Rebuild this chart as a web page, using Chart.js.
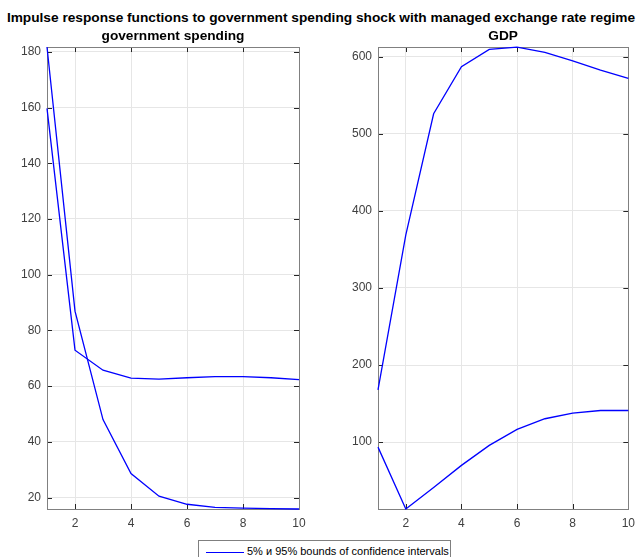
<!DOCTYPE html>
<html>
<head>
<meta charset="utf-8">
<script src="https://cdn.jsdelivr.net/npm/chart.js@4.4.0/dist/chart.umd.min.js"></script>
<style>
  body { margin: 0; background: #fff; font-family: "Liberation Sans", Arial, sans-serif; }
  #wrap { position: relative; width: 642px; height: 557px; overflow: hidden; background: #fff; }
  #supTitle { position: absolute; left: 0; top: 10px; width: 642px; text-align: center;
    font-weight: bold; font-size: 13.7px; color: #000; white-space: nowrap; }
  canvas { position: absolute; }
  #legend { position: absolute; left: 198px; top: 540px; width: 251px; height: 22px;
    border: 1px solid #7f7f7f; background: #fff; font-size: 11px; color: #000; }
  #legend .swatch { position: absolute; left: 7px; top: 11px; width: 38px; height: 0; border-top: 1.3px solid #0000ff; }
  #legend .label { position: absolute; left: 48px; top: 4px; white-space: nowrap; }
</style>
</head>
<body>
<div id="wrap">
  <div id="supTitle">Impulse response functions to government spending shock with managed exchange rate regime</div>
  <canvas id="gov" width="320" height="509" style="left:0px;top:22px"></canvas>
  <canvas id="gdp" width="312" height="509" style="left:330px;top:22px"></canvas>
  <div id="legend"><div class="swatch"></div><div class="label">5% и 95% bounds of confidence intervals</div></div>
</div>
<script>
// -- DATA -- //
const periods = [1, 2, 3, 4, 5, 6, 7, 8, 9, 10]
const legendLabel = '5% и 95% bounds of confidence intervals'

// government spending panel
const govUpper = [181.7, 86.9, 48.0, 28.6, 20.5, 17.6, 16.5, 16.2, 16.0, 15.9]
const govLower = [159.7, 72.9, 65.7, 62.9, 62.5, 63.0, 63.4, 63.4, 63.0, 62.3]
const govYTicks = [20, 40, 60, 80, 100, 120, 140, 160, 180]

// GDP panel
const gdpUpper = [167.9, 369.0, 526.0, 587.0, 609.6, 612.6, 605.7, 594.8, 582.8, 572.0]
const gdpLower = [93.5, 13.2, 41.0, 69.8, 95.7, 116.4, 130.3, 137.6, 141.0, 141.0]
const gdpYTicks = [100, 200, 300, 400, 500, 600]

const xTicks = [2, 4, 6, 8, 10]

// -- HELPERS -- //
const toPoints = (ys) => periods.map((x, i) => ({ x: x, y: ys[i] }))

// matlab-ish box with ticks pointing inwards
const boxPlugin = {
  id: 'box',
  beforeDatasetsDraw(chart) {
    const { ctx, chartArea: a, scales } = chart
    ctx.save()
    ctx.strokeStyle = '#262626'
    ctx.lineWidth = 1
    const len = 5
    ctx.beginPath()
    scales.x.ticks.forEach(t => {
      const px = Math.round(scales.x.getPixelForValue(t.value)) + 0.5
      ctx.moveTo(px, a.bottom); ctx.lineTo(px, a.bottom - len)
      ctx.moveTo(px, a.top); ctx.lineTo(px, a.top + len)
    })
    scales.y.ticks.forEach(t => {
      const py = Math.round(scales.y.getPixelForValue(t.value)) + 0.5
      ctx.moveTo(a.left, py); ctx.lineTo(a.left + len, py)
      ctx.moveTo(a.right, py); ctx.lineTo(a.right - len, py)
    })
    ctx.stroke()
    ctx.strokeStyle = '#808080'
    ctx.strokeRect(Math.round(a.left) + 0.5, Math.round(a.top) + 0.5,
      Math.round(a.right - a.left), Math.round(a.bottom - a.top))
    ctx.restore()
  }
}

const makeChart = (id, title, upper, lower, yTicks, padLeft, padRight) => {
  const all = upper.concat(lower)
  return new Chart(document.getElementById(id), {
    type: 'line',
    data: {
      datasets: [
        { label: legendLabel, data: toPoints(upper), borderColor: '#0000ff', borderWidth: 1.3, pointRadius: 0, tension: 0, fill: false },
        { label: legendLabel, data: toPoints(lower), borderColor: '#0000ff', borderWidth: 1.3, pointRadius: 0, tension: 0, fill: false }
      ]
    },
    options: {
      responsive: false,
      animation: false,
      clip: false,
      layout: { padding: { left: padLeft, right: padRight, top: 0, bottom: 0 } },
      plugins: {
        legend: { display: false },
        tooltip: { enabled: false },
        title: {
          display: true, text: title, color: '#000', fullSize: false, // centre over the plot area
          font: { family: 'Liberation Sans', size: 13.7, weight: 'bold', lineHeight: 1.2 },
          padding: { top: 5.6, bottom: 3 }
        }
      },
      scales: {
        x: {
          type: 'linear', min: 1, max: 10,
          afterBuildTicks: (s) => { s.ticks = xTicks.map(v => ({ value: v })) },
          afterFit: (s) => { s.height = 22 },
          grid: { color: '#e6e6e6', drawTicks: false },
          border: { display: false },
          ticks: { color: '#404040', padding: 7, maxRotation: 0, font: { family: 'Liberation Sans', size: 12 } }
        },
        y: {
          type: 'linear', min: Math.min(...all), max: Math.max(...all),
          afterBuildTicks: (s) => { s.ticks = yTicks.map(v => ({ value: v })) },
          afterFit: (s) => { s.width = 40 },
          grid: { color: '#e6e6e6', drawTicks: false },
          border: { display: false },
          ticks: { color: '#404040', padding: 6, font: { family: 'Liberation Sans', size: 12 } }
        }
      }
    },
    plugins: [boxPlugin]
  })
}

makeChart('gov', 'government spending', govUpper, govLower, govYTicks, 7, 21)
makeChart('gdp', 'GDP', gdpUpper, gdpLower, gdpYTicks, 8, 13)
</script>
</body>
</html>
